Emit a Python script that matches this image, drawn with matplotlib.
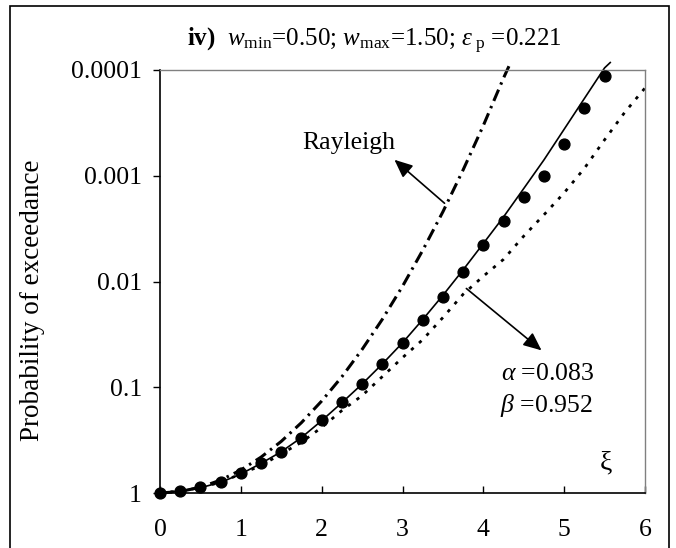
import numpy as np
import matplotlib
matplotlib.use('Agg')
import matplotlib.pyplot as plt
from matplotlib.patches import Rectangle

plt.rcParams['font.family'] = 'Liberation Serif'
plt.rcParams['mathtext.fontset'] = 'custom'
plt.rcParams['mathtext.rm'] = 'Liberation Serif'
plt.rcParams['mathtext.it'] = 'Liberation Serif:italic'
plt.rcParams['mathtext.bf'] = 'Liberation Serif:bold'

# simulated points (markers)
xi_sim = [0, 0.25, 0.5, 0.75, 1.0, 1.25, 1.5, 1.75, 2.0, 2.25, 2.5, 2.75, 3.0,
          3.25, 3.5, 3.75, 4.0, 4.25, 4.5, 4.75, 5.0, 5.25, 5.5]
p_sim = [1, 0.95, 0.88, 0.78, 0.647, 0.525, 0.41, 0.30, 0.205, 0.139, 0.094, 0.060, 0.038,
         0.023, 0.014, 0.0081, 0.0045, 0.0027, 0.0016, 0.00100, 0.00050, 0.00023, 0.000114]

# fitted model (solid)
xi_fit = [0, 0.25, 0.5, 0.75, 1.0, 1.25, 1.5, 1.75, 2.0, 2.25, 2.5, 2.75, 3.0,
          3.25, 3.5, 3.75, 4.0, 4.25, 4.5, 4.75, 5.0, 5.25, 5.5, 5.57]
p_fit = [1, 0.955, 0.891, 0.794, 0.661, 0.525, 0.407, 0.299, 0.207, 0.140, 0.0933, 0.0603, 0.0380,
         0.0229, 0.0135, 0.00776, 0.00437, 0.00245, 0.00132, 0.000708, 0.000363, 0.000186,
         0.0000955, 0.000085]

# Rayleigh (dash-dot)
xi_ray = [0, 0.25, 0.5, 0.75, 1.0, 1.25, 1.5, 1.75, 2.0, 2.25, 2.5, 2.75, 3.0,
          3.25, 3.5, 3.75, 4.0, 4.25, 4.32]
p_ray = [1, 0.969, 0.882, 0.755, 0.607, 0.458, 0.325, 0.216, 0.135, 0.0796, 0.0439, 0.0228, 0.0111,
         0.00507, 0.00219, 0.00088, 0.000335, 0.000119, 0.000091]

# dotted curve
xi_dot = [0, 0.25, 0.5, 0.75, 1.0, 1.25, 1.5, 1.75, 2.0, 2.25, 2.5, 2.75, 3.0,
          3.25, 3.5, 3.75, 4.0, 4.25, 4.5, 4.75, 5.0, 5.25, 5.5, 5.75, 6.0]
p_dot = [1, 0.955, 0.891, 0.79, 0.661, 0.55, 0.427, 0.331, 0.240, 0.166, 0.120, 0.0794, 0.0525,
         0.0355, 0.0219, 0.0132, 0.00891, 0.00617, 0.00372, 0.00234, 0.00145, 0.000851,
         0.000457, 0.000251, 0.000148]

yticks = [1, 0.1, 0.01, 0.001, 0.0001]
ytick_labels = ['1', '0.1', '0.01', '0.001', '0.0001']

fig = plt.figure(figsize=(6.76, 5.48), dpi=100)
ax = fig.add_axes([160/676, 1-493/548, 485/676, 423/548])

ax.plot(xi_dot, p_dot, color='black', lw=2.0, linestyle=(0, (1.2, 2.6)), clip_on=False)
ax.plot(xi_ray, p_ray, color='black', lw=2.2, linestyle=(0, (4, 1.8, 0.8, 1.8)), clip_on=False)
ax.plot(xi_fit, p_fit, color='black', lw=1.2, clip_on=False)
ax.plot(xi_sim, p_sim, 'o', color='black', markersize=7.8, clip_on=False, zorder=5)

ax.set_yscale('log')
ax.set_ylim(1, 0.0001)
ax.set_xlim(0, 6)
ax.set_yticks(yticks)
ax.set_yticklabels(ytick_labels)
ax.minorticks_off()
ax.set_xticks([0, 1, 2, 3, 4, 5, 6])

ax.tick_params(axis='y', direction='out', length=5, width=1, pad=8, labelsize=18.5)
ax.tick_params(axis='x', direction='in', length=5, width=1, pad=19, labelsize=18.5)

for s in ['left', 'bottom']:
    ax.spines[s].set_linewidth(1.2)
for s in ['top', 'right']:
    ax.spines[s].set_linewidth(1.0)
    ax.spines[s].set_color('#808080')

arrow = dict(arrowstyle='-|>,head_length=0.5,head_width=0.22', color='black', lw=1.2,
             mutation_scale=22, shrinkA=0, shrinkB=0)
ax.annotate('', xy=(2.90, 7.06e-4), xytext=(3.52, 1.82e-3), arrowprops=arrow)
ax.annotate('', xy=(4.72, 0.0448), xytext=(3.79, 0.01164), arrowprops=arrow)

ax.text(1.765, 5.56e-4, 'Rayleigh', fontsize=18.5, ha='left', va='baseline')
ax.text(4.22, 0.0859, r'$\alpha$ =0.083', fontsize=18.5, ha='left', va='baseline')
ax.text(4.20, 0.172, r'$\beta$ =0.952', fontsize=18.5, ha='left', va='baseline')
ax.text(5.52, 0.521, 'ξ', fontsize=20, ha='center', va='center')

fig.text(374/676, 1-46/548,
         r'$\mathbf{iv)}$  $w_{\rm min}$=0.50; $w_{\rm max}$=1.50; $\varepsilon_{\ \rm p}$ =0.221',
         fontsize=18, ha='center', va='baseline')
fig.text(33/676, 1-300/548, 'Probability of exceedance', fontsize=19.5,
         rotation=90, ha='center', va='center')

# outer frame round the whole chart
fig.patches.append(Rectangle((10/676, -0.02), 659/676, 1.02-6/548, transform=fig.transFigure,
                             fill=False, edgecolor='black', lw=1.2))

fig.savefig('out.png', dpi=100)
